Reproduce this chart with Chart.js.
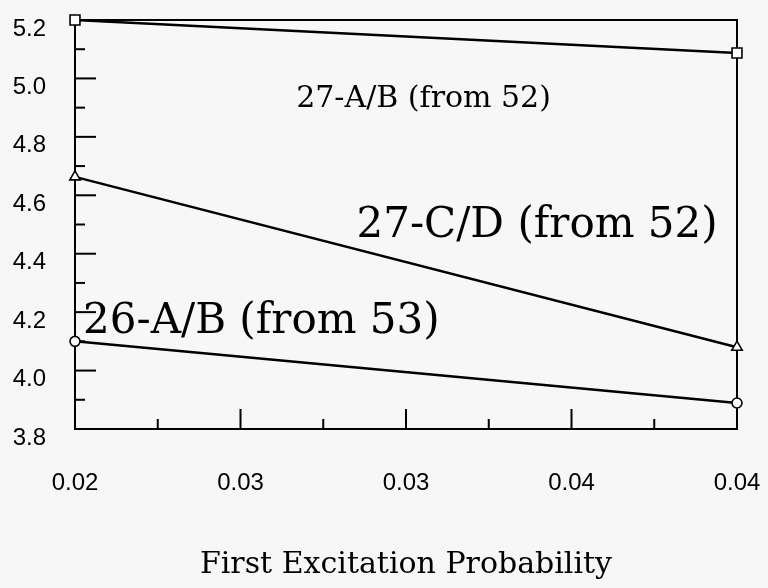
<!DOCTYPE html>
<html>
<head>
<meta charset="utf-8">
<script src="https://cdn.jsdelivr.net/npm/chart.js@4.4.1/dist/chart.umd.min.js"></script>
<style>
  html, body { margin: 0; padding: 0; background: #f7f7f7; }
  #wrap { width: 768px; height: 588px; }
</style>
</head>
<body>
<div id="wrap"><canvas id="myChart" width="768" height="588"></canvas></div>
<script>
// data
var xValues = [0.02, 0.04]
var ab27 = [5.2, 5.087]   // squares
var cd27 = [4.663, 4.08]  // triangles
var ab26 = [4.10, 3.889]  // circles
var xTickLabels = ['0.02', '0.03', '0.03', '0.04', '0.04']
var seriesNames = ['27-A/B (from 52)', '27-C/D (from 52)', '26-A/B (from 53)']
var xTitle = 'First Excitation Probability'

function pts(ys) {
    return ys.map(function (y, i) { return { x: xValues[i], y: y } })
}

// labels written inside the plot, placed in data units
var notes = [
    { text: seriesNames[0], x: 0.03053, y: 4.902, size: 30 },
    { text: seriesNames[1], x: 0.03396, y: 4.457, size: 42 },
    { text: seriesNames[2], x: 0.02563, y: 4.128, size: 42 }
]

// frame + inward ticks like the old plot
const frameTicks = {
    id: 'frameTicks',
    beforeDatasetsDraw(chart) {
        const ctx = chart.ctx
        const a = chart.chartArea
        const xs = chart.scales.x
        const ys = chart.scales.y
        ctx.save()
        ctx.strokeStyle = '#000'
        ctx.lineWidth = 2
        ctx.strokeRect(a.left, a.top, a.right - a.left, a.bottom - a.top)
        // x ticks, major every 0.005, minor in between
        for (let i = 1; i < 8; i++) {
            const v = xs.min + i * 0.0025
            const px = xs.getPixelForValue(v)
            const len = (i % 2 === 0) ? 20 : 10
            ctx.beginPath()
            ctx.moveTo(px, a.bottom)
            ctx.lineTo(px, a.bottom - len)
            ctx.stroke()
        }
        // y ticks, major every 0.2, minor every 0.1
        for (let i = 1; i < 14; i++) {
            const v = ys.min + i * 0.1
            const py = ys.getPixelForValue(v)
            const len = (i % 2 === 0) ? 21 : 10
            ctx.beginPath()
            ctx.moveTo(a.left, py)
            ctx.lineTo(a.left + len, py)
            ctx.stroke()
        }
        ctx.restore()
    },
    afterDraw(chart) {
        const ctx = chart.ctx
        const xs = chart.scales.x
        const ys = chart.scales.y
        ctx.save()
        ctx.fillStyle = '#000'
        ctx.textAlign = 'center'
        ctx.textBaseline = 'alphabetic'
        notes.forEach(function (n) {
            ctx.font = n.size + 'px "DejaVu Serif"'
            ctx.fillText(n.text, xs.getPixelForValue(n.x), ys.getPixelForValue(n.y))
        })
        ctx.restore()
    }
}

const ctx = document.getElementById('myChart').getContext('2d')
const myChart = new Chart(ctx, {
    type: 'line',
    data: {
        datasets: [{
            label: seriesNames[0],
            data: pts(ab27),
            pointStyle: 'rect',
            pointRadius: 7
        }, {
            label: seriesNames[1],
            data: pts(cd27),
            pointStyle: 'triangle',
            pointRadius: 6
        }, {
            label: seriesNames[2],
            data: pts(ab26),
            pointStyle: 'circle',
            pointRadius: 5
        }]
    },
    options: {
        responsive: false,
        animation: false,
        devicePixelRatio: 1,
        layout: { padding: { left: 0, right: 31, top: 20, bottom: 0 } },
        elements: {
            line: { borderColor: '#000', borderWidth: 2.5, tension: 0 },
            point: { backgroundColor: '#fff', borderColor: '#000', borderWidth: 1.6 }
        },
        datasets: { line: { clip: false } },
        plugins: {
            legend: { display: false },
            tooltip: { enabled: false }
        },
        scales: {
            x: {
                type: 'linear',
                min: 0.02,
                max: 0.04,
                grid: { display: false, drawTicks: false },
                border: { display: false },
                afterFit: function (s) {
                    s.height = 159
                    s.paddingLeft = 0
                    s.paddingRight = 0
                },
                ticks: {
                    stepSize: 0.005,
                    padding: 40,
                    color: '#000',
                    maxRotation: 0,
                    font: { family: '"Liberation Sans", Arial, sans-serif', size: 24 },
                    callback: function (v, i) { return xTickLabels[i] }
                },
                title: {
                    display: true,
                    text: xTitle,
                    color: '#000',
                    font: { family: '"DejaVu Serif", serif', size: 30 },
                    padding: { top: 10, bottom: 5 }
                }
            },
            y: {
                min: 3.8,
                max: 5.2,
                grid: { display: false, drawTicks: false },
                border: { display: false },
                afterFit: function (s) {
                    s.width = 75
                    s.paddingTop = 0
                    s.paddingBottom = 0
                },
                ticks: {
                    stepSize: 0.2,
                    padding: 29,
                    labelOffset: 9,
                    color: '#000',
                    font: { family: '"Liberation Sans", Arial, sans-serif', size: 24 },
                    callback: function (v) { return v.toFixed(1) }
                }
            }
        }
    },
    plugins: [frameTicks]
})
</script>
</body>
</html>
